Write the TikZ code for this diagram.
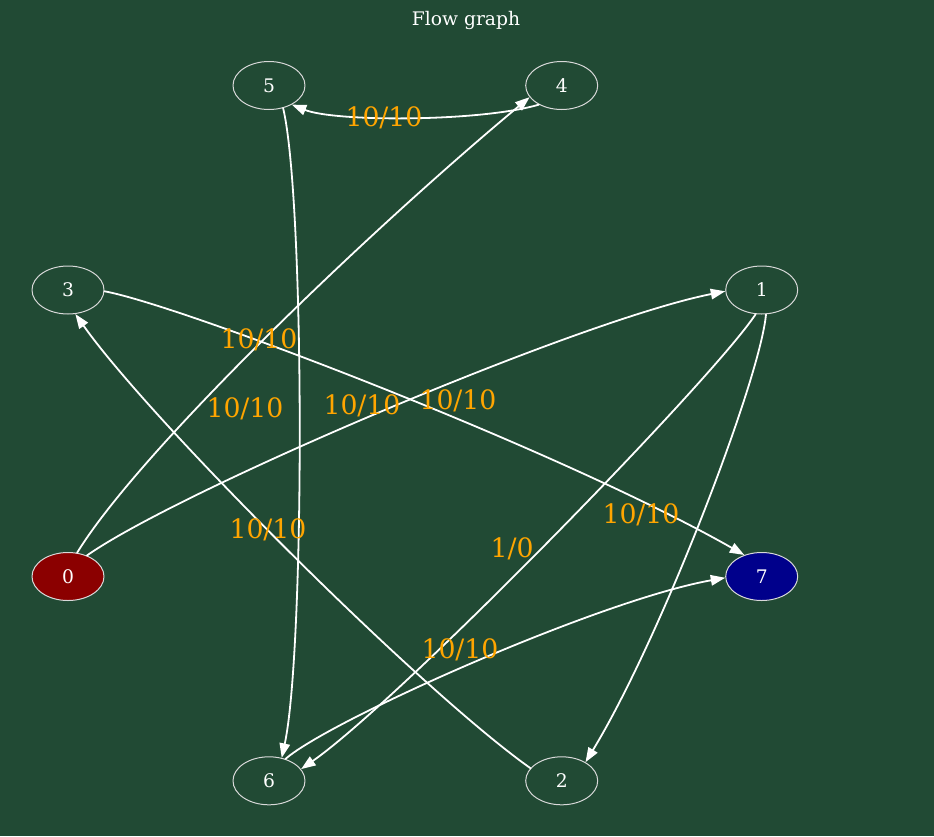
\documentclass[tikz,border=0pt]{standalone}
\usepackage{fontspec}
\setmainfont{DejaVu Serif}
\usetikzlibrary{arrows.meta,shapes.geometric}
\definecolor{bggreen}{HTML}{214A34}
\definecolor{flowtxt}{HTML}{FFA500}
\definecolor{srcred}{HTML}{8B0000}
\definecolor{sinkblue}{HTML}{00008B}
\begin{document}
\begin{tikzpicture}[line cap=round,line join=round,>={Triangle[length=14.5pt,width=10.5pt]},x=1pt,y=-1pt,
	vert/.style={draw=white!85!black,line width=1pt,ellipse,minimum width=72pt,minimum height=48pt,inner sep=0pt,text=white,font=\fontsize{18.7}{18.7}\selectfont},
	flow/.style={draw=white,line width=1.8pt,->},
	flowlab/.style={text=flowtxt,inner sep=0pt,font=\fontsize{26.7}{26.7}\selectfont}]
				\fill[bggreen] (0,0) rectangle (934,836);
				\node[text=white,font=\fontsize{18.7}{18.7}\selectfont] (title) at (466,20) {Flow graph};
				\node[vert] (n5) at (269,85.5) {5};
				\node[vert] (n4) at (561.7,85.5) {4};
				\node[vert] (n3) at (68,290) {3};
				\node[vert] (n1) at (761.7,290) {1};
				\node[vert,fill=srcred] (n0) at (68,576.5) {0};
				\node[vert,fill=sinkblue] (n7) at (761.7,576.5) {7};
				\node[vert] (n6) at (269,780.8) {6};
				\node[vert] (n2) at (561.7,780.8) {2};
				\draw[flow] (n4.220) .. controls (480,122) and (335,122) .. (n5.320);
				\draw[flow] (n0.69) .. controls (140,450) and (370,230) .. (n4.200);
				\draw[flow] (n0.48) .. controls (180,490) and (580,320) .. (n1.182);
				\draw[flow] (n3.358) .. controls (180,305) and (560,450) .. (n7.129);
				\draw[flow] (n2.158) .. controls (420,690) and (150,420) .. (n3.287);
				\draw[flow] (n5.302) .. controls (305,200) and (305,650) .. (n6.61);
				\draw[flow] (n1.256) .. controls (712,380) and (400,700) .. (n6.20);
				\draw[flow] (n1.280) .. controls (760,380) and (660,640) .. (n2.38);
				\draw[flow] (n6.53) .. controls (330,720) and (600,600) .. (n7.182);
				\node[flowlab] (f45) at (384,118) {10/10};
				\node[flowlab] (f04) at (259,340) {10/10};
				\node[flowlab] (f56) at (245,409) {10/10};
				\node[flowlab] (f01) at (362,406) {10/10};
				\node[flowlab] (f37) at (458,401) {10/10};
				\node[flowlab] (f23) at (268,530) {10/10};
				\node[flowlab] (f12) at (641,515) {10/10};
				\node[flowlab] (f16) at (512,549) {1/0};
				\node[flowlab] (f67) at (460,650) {10/10};
\end{tikzpicture}
\end{document}
